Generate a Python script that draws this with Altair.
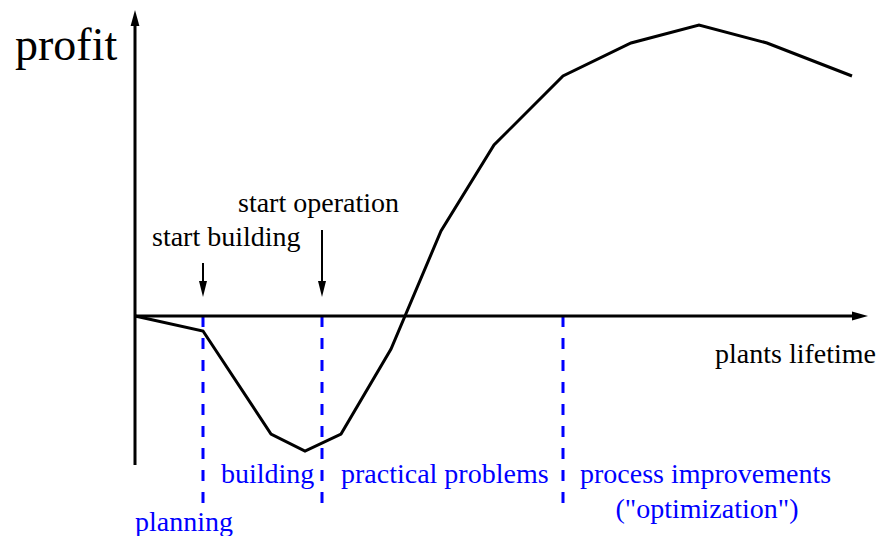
import altair as alt
import pandas as pd

# Profit curve over the plant's lifetime (arbitrary units)
time_vals = [0, 68, 136, 170, 206, 256, 306, 359, 428, 496, 564, 632, 717]
profit_vals = [0, -15, -118, -135, -118, -33, 85, 171, 240, 273, 291, 273, 240]

# Phase boundaries (blue dashed lines)
phase_x = [68, 187, 428]
phase_bottom = -191

# Event arrows
event_x = [68, 187]
event_top = [53, 86]
event_tip = 19

# Labels
black_labels = ["start building", "start operation", "plants lifetime"]
black_label_x = [17, 103, 741]
black_label_y = [70, 104, -47]
black_label_align = ["left", "left", "right"]

blue_labels = ["planning", "building", "practical problems", "process improvements", "(\"optimization\")"]
blue_label_x = [0, 86, 206, 445, 572]
blue_label_y = [-215, -167, -167, -167, -202]
blue_label_align = ["left", "left", "left", "left", "center"]

FONT = "Liberation Serif"
XD = [-127, 741]
YD = [-220, 308]
xs = alt.Scale(domain=XD, nice=False, zero=False)
ys = alt.Scale(domain=YD, nice=False, zero=False)

curve = pd.DataFrame({"t": time_vals, "p": profit_vals})
line = alt.Chart(curve).mark_line(color="black", strokeWidth=3, strokeJoin="miter").encode(
    x=alt.X("t:Q", scale=xs, axis=None), y=alt.Y("p:Q", scale=ys, axis=None), order="t:Q"
)

axes_df = pd.DataFrame({"x": [0, 0], "x2": [0, 725], "y": [-149, 0], "y2": [298, 0]})
axes = alt.Chart(axes_df).mark_rule(color="black", strokeWidth=3).encode(
    x=alt.X("x:Q", scale=xs, axis=None), x2="x2:Q",
    y=alt.Y("y:Q", scale=ys, axis=None), y2="y2:Q"
)

up_head = alt.Chart(pd.DataFrame({"x": [0], "y": [298]})).mark_point(
    shape="M0,-1L-0.55,1L0.55,1Z", filled=True, color="black", opacity=1, size=256, strokeWidth=0
).encode(x=alt.X("x:Q", scale=xs, axis=None), y=alt.Y("y:Q", scale=ys, axis=None))

right_head = alt.Chart(pd.DataFrame({"x": [725], "y": [0]})).mark_point(
    shape="M1,0L-1,-0.55L-1,0.55Z", filled=True, color="black", opacity=1, size=256, strokeWidth=0
).encode(x=alt.X("x:Q", scale=xs, axis=None), y=alt.Y("y:Q", scale=ys, axis=None))

phase_df = pd.DataFrame({"x": phase_x, "y": [0] * len(phase_x), "y2": [phase_bottom] * len(phase_x)})
phases = alt.Chart(phase_df).mark_rule(color="#0000ff", strokeWidth=3, strokeDash=[11, 11]).encode(
    x=alt.X("x:Q", scale=xs, axis=None), y=alt.Y("y:Q", scale=ys, axis=None), y2="y2:Q"
)

ev_df = pd.DataFrame({"x": event_x, "y": event_top, "y2": [event_tip + 8] * len(event_x),
                      "tipc": [event_tip + 8] * len(event_x)})
ev_shaft = alt.Chart(ev_df).mark_rule(color="black", strokeWidth=2).encode(
    x=alt.X("x:Q", scale=xs, axis=None), y=alt.Y("y:Q", scale=ys, axis=None), y2="y2:Q"
)
ev_head = alt.Chart(ev_df).mark_point(
    shape="M0,1L-0.5,-1L0.5,-1Z", filled=True, color="black", opacity=1, size=256, strokeWidth=0
).encode(x=alt.X("x:Q", scale=xs, axis=None), y=alt.Y("tipc:Q", scale=ys, axis=None))

profit_lbl = alt.Chart(pd.DataFrame({"x": [-120], "y": [256], "s": ["profit"]})).mark_text(
    font=FONT, fontSize=46, align="left", baseline="alphabetic", color="black"
).encode(x=alt.X("x:Q", scale=xs, axis=None), y=alt.Y("y:Q", scale=ys, axis=None), text="s:N")

def text_layer(labels, lx, ly, aligns, color):
    layers = []
    for s, x, y, a in zip(labels, lx, ly, aligns):
        layers.append(
            alt.Chart(pd.DataFrame({"x": [x], "y": [y], "s": [s]})).mark_text(
                font=FONT, fontSize=28, align=a, baseline="alphabetic", color=color
            ).encode(x=alt.X("x:Q", scale=xs, axis=None), y=alt.Y("y:Q", scale=ys, axis=None), text="s:N")
        )
    return layers

layers = [phases, axes, up_head, right_head, line, ev_shaft, ev_head, profit_lbl]
layers += text_layer(black_labels, black_label_x, black_label_y, black_label_align, "black")
layers += text_layer(blue_labels, blue_label_x, blue_label_y, blue_label_align, "#0000ff")

chart = alt.layer(*layers).properties(
    width=868, height=528, padding=0, autosize=alt.AutoSizeParams(type="none")
).configure_view(stroke="transparent")

chart.save("out.html", embed_options={"renderer": "svg", "actions": False})
